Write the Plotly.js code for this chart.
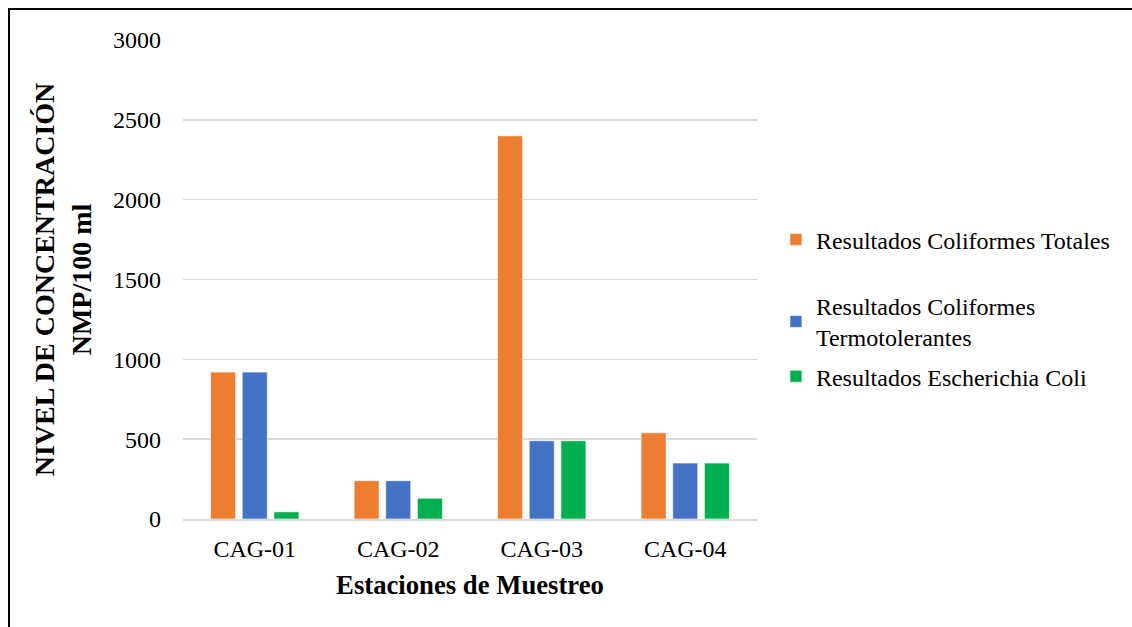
<!DOCTYPE html>
<html>
<head>
<meta charset="utf-8">
<script src="https://cdn.plot.ly/plotly-3.0.1.min.js"></script>
<style>
html,body{margin:0;padding:0;background:#fff;}
#frame{position:absolute;left:8px;top:8px;width:1140px;height:640px;border-left:2px solid #000;border-top:2px solid #000;box-sizing:border-box;pointer-events:none;}
#chart{position:absolute;left:0;top:0;width:1132px;height:627px;}
</style>
</head>
<body>
<div id="chart"></div>
<div id="frame"></div>
<script>
const categories = ['CAG-01','CAG-02','CAG-03','CAG-04'];
const totales = [920, 240, 2400, 540];
const termotolerantes = [920, 240, 490, 350];
const ecoli = [45, 130, 490, 350];
const seriesNames = ['Resultados Coliformes Totales','Resultados Coliformes<br>Termotolerantes','Resultados Escherichia Coli'];
const colors = ['#ED7D31','#4472C4','#00B050'];

const font = 'Liberation Serif';
const vals = [totales, termotolerantes, ecoli];
const legendIds = ['legend','legend2','legend3'];
const traces = vals.map((v,i)=>({
  type:'bar', x:categories, y:v, name:seriesNames[i],
  marker:{color:colors[i], line:{color:'rgba(255,255,255,0.6)', width:1}},
  legend:legendIds[i], hoverinfo:'x+y'
}));

const plotTop = 40, plotBot = 519.5;
function py(p){ return (plotBot - p)/(plotBot - plotTop); }
const legendX = 1.033;
const legFont = {family:font, size:24, color:'#000'};
const mkLeg = (yp)=>({x:legendX, xanchor:'left', y:py(yp), yanchor:'middle', font:legFont, itemwidth:30, borderwidth:0, bgcolor:'rgba(0,0,0,0)'});

const layout = {
  width:1132, height:627,
  margin:{l:183, r:375, t:plotTop, b:627-plotBot, pad:0},
  paper_bgcolor:'#fff', plot_bgcolor:'#fff',
  font:{family:font, size:24, color:'#000'},
  barmode:'group', bargap:0.338, bargroupgap:0.21,
  showlegend:true,
  legend:mkLeg(240), legend2:mkLeg(322), legend3:mkLeg(377),
  xaxis:{showgrid:false, showline:true, linecolor:'#d9d9d9', linewidth:1.5, ticks:'', tickfont:{family:font,size:24}, ticklabelstandoff:8,
    title:{text:'<b>Estaciones de Muestreo</b>', font:{family:font,size:26.7}, standoff:14}},
  yaxis:{range:[0,3000], dtick:500, showgrid:true, gridcolor:'#d9d9d9', gridwidth:1.5, zeroline:false, showline:false, ticks:'', tickfont:{family:font,size:24}, ticklabelstandoff:21,
    title:{text:'<b>NIVEL DE CONCENTRACIÓN<br>NMP/100 ml</b>', font:{family:font,size:28}, standoff:13}},
};
Plotly.newPlot('chart', traces, layout, {displayModeBar:false, staticPlot:true});
</script>
</body>
</html>
